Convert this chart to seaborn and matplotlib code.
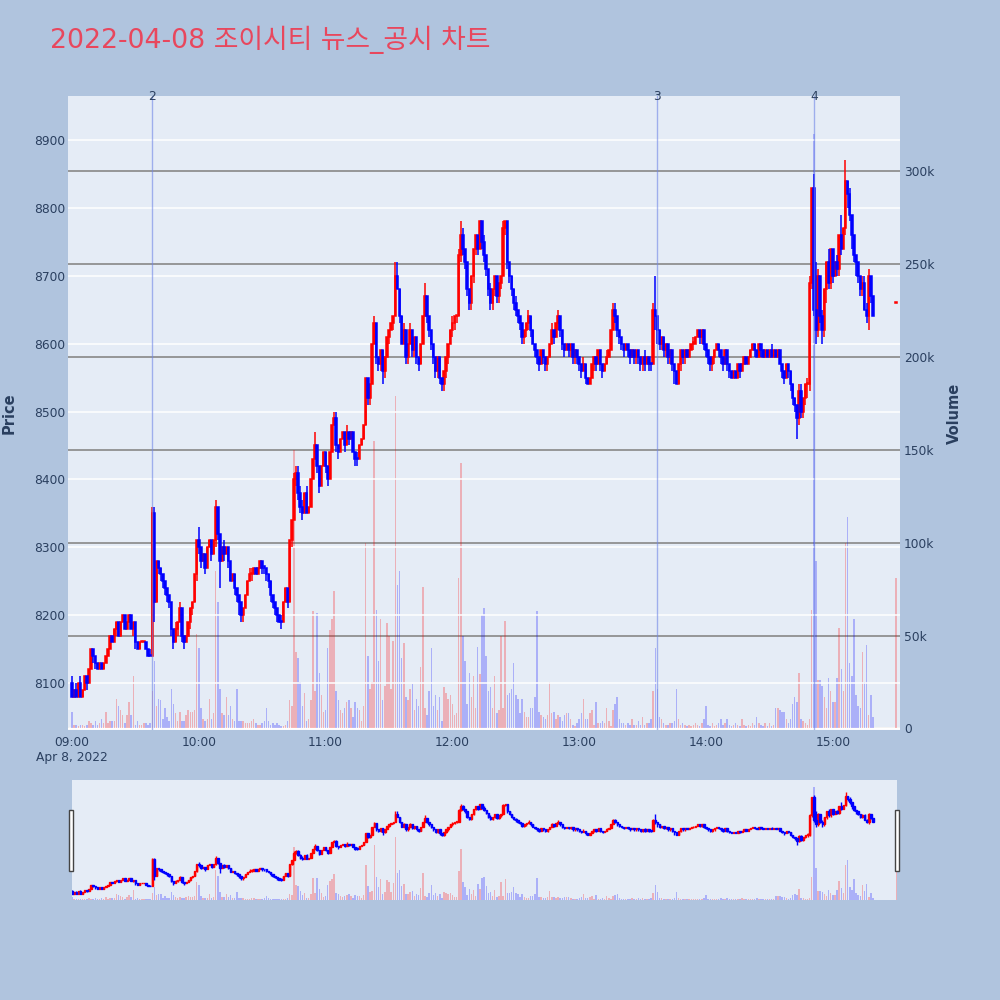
import numpy as np
import pandas as pd
import matplotlib
matplotlib.use("Agg")
import matplotlib.pyplot as plt
from matplotlib.patches import Rectangle
from matplotlib.transforms import blended_transform_factory
import seaborn as sns

# ---- chart data (1-minute candles 09:00-15:19 plus the 15:30 closing auction) ----
title = "2022-04-08 조이시티 뉴스_공시 차트"
session_start = "2022-04-08 09:00"
session_end = "2022-04-08 15:19"
closing_auction = "2022-04-08 15:30"

opens = [
    8100, 8080, 8090, 8080, 8100, 8080, 8090, 8110, 8100, 8120,
    8150, 8140, 8130, 8120, 8130, 8120, 8130, 8140, 8150, 8170,
    8160, 8180, 8190, 8170, 8190, 8200, 8180, 8190, 8200, 8180,
    8190, 8160, 8150, 8160, 8160, 8160, 8150, 8140, 8140, 8350,
    8220, 8280, 8270, 8260, 8250, 8240, 8230, 8220, 8180, 8160,
    8180, 8190, 8210, 8170, 8160, 8170, 8190, 8210, 8220, 8260,
    8310, 8300, 8280, 8290, 8270, 8300, 8310, 8290, 8310, 8360,
    8320, 8280, 8300, 8290, 8300, 8280, 8250, 8260, 8240, 8230,
    8220, 8200, 8210, 8230, 8250, 8260, 8260, 8270, 8260, 8270,
    8280, 8270, 8270, 8260, 8250, 8230, 8220, 8210, 8200, 8190,
    8190, 8220, 8240, 8220, 8310, 8340, 8400, 8410, 8380, 8360,
    8350, 8380, 8350, 8360, 8400, 8430, 8450, 8420, 8390, 8420,
    8440, 8420, 8400, 8440, 8480, 8490, 8450, 8440, 8460, 8470,
    8450, 8470, 8460, 8470, 8440, 8430, 8430, 8450, 8460, 8480,
    8550, 8520, 8540, 8600, 8630, 8580, 8570, 8590, 8560, 8580,
    8610, 8620, 8630, 8640, 8700, 8680, 8640, 8600, 8620, 8580,
    8600, 8620, 8590, 8610, 8580, 8570, 8600, 8640, 8670, 8640,
    8620, 8600, 8580, 8560, 8580, 8550, 8540, 8560, 8580, 8600,
    8620, 8630, 8640, 8640, 8730, 8760, 8740, 8720, 8680, 8660,
    8700, 8740, 8760, 8740, 8780, 8750, 8730, 8710, 8680, 8660,
    8680, 8700, 8670, 8690, 8700, 8770, 8780, 8720, 8700, 8680,
    8660, 8650, 8640, 8630, 8610, 8620, 8630, 8640, 8620, 8600,
    8590, 8580, 8570, 8590, 8580, 8570, 8580, 8600, 8620, 8610,
    8630, 8640, 8620, 8600, 8590, 8600, 8590, 8600, 8580, 8590,
    8580, 8570, 8560, 8570, 8550, 8540, 8550, 8570, 8580, 8570,
    8590, 8570, 8560, 8570, 8580, 8590, 8620, 8650, 8640, 8620,
    8610, 8600, 8590, 8600, 8590, 8580, 8590, 8580, 8590, 8580,
    8570, 8580, 8570, 8580, 8570, 8570, 8650, 8640, 8620, 8600,
    8610, 8590, 8600, 8580, 8590, 8570, 8560, 8540, 8570, 8590,
    8580, 8590, 8580, 8590, 8600, 8600, 8610, 8620, 8610, 8620,
    8600, 8590, 8580, 8570, 8580, 8590, 8600, 8590, 8580, 8570,
    8590, 8570, 8560, 8550, 8560, 8550, 8570, 8560, 8570, 8580,
    8570, 8580, 8590, 8600, 8590, 8580, 8600, 8590, 8580, 8590,
    8580, 8590, 8580, 8590, 8580, 8590, 8570, 8560, 8550, 8570,
    8560, 8540, 8520, 8510, 8490, 8530, 8500, 8520, 8540, 8540,
    8690, 8830, 8650, 8620, 8700, 8640, 8620, 8680, 8720, 8690,
    8740, 8700, 8720, 8710, 8760, 8740, 8770, 8840, 8820, 8790,
    8760, 8730, 8720, 8700, 8680, 8690, 8650, 8640, 8700, 8670,
    8660,
]
highs = [
    8110, 8090, 8100, 8100, 8110, 8090, 8110, 8110, 8120, 8150,
    8150, 8140, 8130, 8130, 8130, 8130, 8140, 8150, 8170, 8170,
    8180, 8190, 8190, 8190, 8200, 8200, 8190, 8200, 8200, 8190,
    8190, 8160, 8160, 8160, 8160, 8160, 8150, 8150, 8360, 8360,
    8280, 8280, 8270, 8260, 8250, 8240, 8230, 8220, 8180, 8190,
    8190, 8220, 8210, 8170, 8170, 8190, 8210, 8220, 8260, 8310,
    8330, 8300, 8290, 8290, 8300, 8310, 8310, 8310, 8370, 8360,
    8320, 8300, 8310, 8300, 8300, 8280, 8260, 8260, 8240, 8230,
    8220, 8210, 8230, 8250, 8270, 8270, 8270, 8270, 8270, 8280,
    8280, 8270, 8270, 8260, 8250, 8230, 8220, 8210, 8200, 8200,
    8220, 8240, 8240, 8310, 8340, 8410, 8420, 8420, 8390, 8370,
    8380, 8390, 8360, 8400, 8430, 8470, 8450, 8420, 8420, 8440,
    8440, 8420, 8440, 8480, 8500, 8500, 8450, 8460, 8470, 8470,
    8480, 8470, 8470, 8470, 8440, 8440, 8450, 8460, 8480, 8550,
    8550, 8540, 8600, 8640, 8630, 8580, 8590, 8590, 8580, 8610,
    8620, 8630, 8640, 8720, 8720, 8680, 8640, 8630, 8620, 8600,
    8630, 8620, 8610, 8610, 8580, 8600, 8640, 8690, 8670, 8640,
    8620, 8600, 8580, 8580, 8580, 8550, 8560, 8580, 8600, 8620,
    8640, 8640, 8640, 8740, 8780, 8770, 8740, 8720, 8680, 8700,
    8740, 8760, 8760, 8780, 8780, 8760, 8730, 8710, 8690, 8680,
    8700, 8700, 8690, 8700, 8780, 8780, 8780, 8720, 8700, 8680,
    8670, 8650, 8640, 8630, 8620, 8630, 8650, 8640, 8620, 8600,
    8590, 8580, 8590, 8590, 8580, 8580, 8600, 8630, 8620, 8630,
    8650, 8640, 8620, 8600, 8600, 8600, 8600, 8600, 8590, 8590,
    8580, 8570, 8580, 8570, 8550, 8550, 8570, 8580, 8580, 8590,
    8590, 8570, 8570, 8590, 8590, 8620, 8660, 8660, 8640, 8620,
    8610, 8600, 8600, 8600, 8590, 8590, 8590, 8590, 8590, 8580,
    8580, 8590, 8580, 8580, 8570, 8660, 8700, 8640, 8620, 8610,
    8610, 8600, 8600, 8590, 8590, 8570, 8560, 8570, 8590, 8590,
    8590, 8590, 8590, 8600, 8610, 8610, 8620, 8620, 8620, 8620,
    8600, 8590, 8580, 8580, 8590, 8600, 8600, 8590, 8580, 8590,
    8590, 8570, 8560, 8560, 8560, 8570, 8570, 8570, 8580, 8580,
    8580, 8590, 8600, 8600, 8590, 8600, 8600, 8590, 8590, 8590,
    8590, 8600, 8590, 8590, 8590, 8590, 8570, 8560, 8570, 8570,
    8560, 8540, 8520, 8510, 8540, 8540, 8520, 8540, 8550, 8700,
    8830, 8850, 8720, 8710, 8700, 8650, 8680, 8720, 8740, 8740,
    8740, 8720, 8730, 8760, 8790, 8770, 8870, 8840, 8830, 8790,
    8760, 8730, 8720, 8700, 8700, 8700, 8660, 8710, 8700, 8670,
    8660,
]
lows = [
    8080, 8080, 8080, 8080, 8080, 8080, 8090, 8090, 8100, 8120,
    8130, 8120, 8120, 8120, 8120, 8120, 8130, 8140, 8150, 8160,
    8160, 8170, 8170, 8170, 8190, 8180, 8180, 8190, 8180, 8170,
    8150, 8150, 8150, 8160, 8160, 8150, 8140, 8140, 8140, 8190,
    8220, 8260, 8250, 8240, 8230, 8220, 8210, 8170, 8150, 8160,
    8170, 8190, 8160, 8150, 8160, 8170, 8180, 8200, 8220, 8250,
    8290, 8270, 8280, 8260, 8270, 8300, 8280, 8290, 8300, 8310,
    8240, 8280, 8280, 8290, 8270, 8250, 8250, 8230, 8220, 8200,
    8190, 8190, 8210, 8230, 8250, 8250, 8260, 8260, 8260, 8270,
    8260, 8260, 8250, 8240, 8220, 8210, 8200, 8190, 8190, 8180,
    8190, 8220, 8210, 8220, 8300, 8340, 8390, 8370, 8350, 8340,
    8350, 8350, 8350, 8360, 8400, 8430, 8410, 8380, 8390, 8420,
    8410, 8390, 8400, 8440, 8480, 8440, 8430, 8440, 8460, 8440,
    8450, 8450, 8460, 8440, 8420, 8420, 8430, 8450, 8460, 8480,
    8510, 8510, 8540, 8600, 8570, 8560, 8560, 8540, 8550, 8580,
    8600, 8620, 8620, 8640, 8680, 8630, 8600, 8600, 8570, 8570,
    8600, 8580, 8580, 8570, 8560, 8570, 8600, 8640, 8630, 8610,
    8590, 8570, 8550, 8550, 8540, 8530, 8530, 8550, 8570, 8600,
    8610, 8620, 8630, 8640, 8720, 8730, 8710, 8670, 8650, 8650,
    8690, 8730, 8730, 8740, 8740, 8720, 8700, 8670, 8650, 8650,
    8670, 8660, 8660, 8680, 8700, 8760, 8710, 8690, 8670, 8650,
    8640, 8630, 8620, 8600, 8600, 8610, 8620, 8610, 8600, 8580,
    8570, 8560, 8570, 8570, 8560, 8560, 8580, 8600, 8600, 8610,
    8620, 8610, 8590, 8580, 8590, 8580, 8580, 8570, 8570, 8570,
    8560, 8550, 8560, 8540, 8540, 8540, 8550, 8560, 8560, 8570,
    8560, 8550, 8560, 8570, 8580, 8590, 8620, 8630, 8610, 8600,
    8590, 8580, 8590, 8580, 8570, 8580, 8570, 8570, 8570, 8560,
    8560, 8560, 8570, 8560, 8560, 8570, 8620, 8600, 8590, 8590,
    8580, 8580, 8570, 8570, 8560, 8540, 8540, 8540, 8560, 8570,
    8570, 8580, 8580, 8590, 8590, 8600, 8610, 8600, 8600, 8590,
    8580, 8570, 8560, 8560, 8570, 8590, 8580, 8570, 8560, 8570,
    8560, 8550, 8550, 8550, 8550, 8550, 8550, 8560, 8570, 8570,
    8570, 8580, 8590, 8580, 8580, 8580, 8580, 8580, 8580, 8580,
    8580, 8580, 8580, 8580, 8580, 8570, 8550, 8540, 8550, 8550,
    8530, 8510, 8500, 8460, 8480, 8490, 8490, 8510, 8520, 8530,
    8680, 8640, 8600, 8610, 8630, 8600, 8610, 8660, 8680, 8680,
    8690, 8700, 8700, 8700, 8730, 8740, 8760, 8800, 8780, 8740,
    8720, 8700, 8690, 8670, 8670, 8650, 8630, 8620, 8660, 8640,
    8660,
]
closes = [
    8080, 8090, 8080, 8100, 8080, 8090, 8110, 8100, 8120, 8150,
    8140, 8130, 8120, 8130, 8120, 8130, 8140, 8150, 8170, 8160,
    8180, 8190, 8170, 8190, 8200, 8180, 8190, 8200, 8180, 8190,
    8160, 8150, 8160, 8160, 8160, 8150, 8140, 8140, 8350, 8220,
    8280, 8270, 8260, 8250, 8240, 8230, 8220, 8180, 8160, 8180,
    8190, 8210, 8170, 8160, 8170, 8190, 8210, 8220, 8260, 8310,
    8300, 8280, 8290, 8270, 8300, 8310, 8290, 8310, 8360, 8320,
    8280, 8300, 8290, 8300, 8280, 8250, 8260, 8240, 8230, 8220,
    8200, 8210, 8230, 8250, 8260, 8260, 8270, 8260, 8270, 8280,
    8270, 8270, 8260, 8250, 8230, 8220, 8210, 8200, 8190, 8190,
    8220, 8240, 8220, 8310, 8340, 8400, 8410, 8380, 8360, 8350,
    8380, 8350, 8360, 8400, 8430, 8450, 8420, 8390, 8420, 8440,
    8420, 8400, 8440, 8480, 8490, 8450, 8440, 8460, 8470, 8450,
    8470, 8460, 8470, 8440, 8430, 8430, 8450, 8460, 8480, 8550,
    8520, 8540, 8600, 8630, 8580, 8570, 8590, 8560, 8580, 8610,
    8620, 8630, 8640, 8700, 8680, 8640, 8600, 8620, 8580, 8600,
    8620, 8590, 8610, 8580, 8570, 8600, 8640, 8670, 8640, 8620,
    8600, 8580, 8560, 8580, 8550, 8540, 8560, 8580, 8600, 8620,
    8630, 8640, 8640, 8730, 8760, 8740, 8720, 8680, 8660, 8700,
    8740, 8760, 8740, 8780, 8750, 8730, 8710, 8680, 8660, 8680,
    8700, 8670, 8690, 8700, 8770, 8780, 8720, 8700, 8680, 8660,
    8650, 8640, 8630, 8610, 8620, 8630, 8640, 8620, 8600, 8590,
    8580, 8570, 8590, 8580, 8570, 8580, 8600, 8620, 8610, 8630,
    8640, 8620, 8600, 8590, 8600, 8590, 8600, 8580, 8590, 8580,
    8570, 8560, 8570, 8550, 8540, 8550, 8570, 8580, 8570, 8590,
    8570, 8560, 8570, 8580, 8590, 8620, 8650, 8640, 8620, 8610,
    8600, 8590, 8600, 8590, 8580, 8590, 8580, 8590, 8580, 8570,
    8580, 8570, 8580, 8570, 8570, 8650, 8640, 8620, 8600, 8610,
    8590, 8600, 8580, 8590, 8570, 8560, 8540, 8570, 8590, 8580,
    8590, 8580, 8590, 8600, 8600, 8610, 8620, 8610, 8620, 8600,
    8590, 8580, 8570, 8580, 8590, 8600, 8590, 8580, 8570, 8590,
    8570, 8560, 8550, 8560, 8550, 8570, 8560, 8570, 8580, 8570,
    8580, 8590, 8600, 8590, 8580, 8600, 8590, 8580, 8590, 8580,
    8590, 8580, 8590, 8580, 8590, 8570, 8560, 8550, 8570, 8560,
    8540, 8520, 8510, 8490, 8530, 8500, 8520, 8540, 8540, 8690,
    8830, 8650, 8620, 8700, 8640, 8620, 8680, 8720, 8690, 8740,
    8700, 8720, 8710, 8760, 8740, 8770, 8840, 8820, 8790, 8760,
    8730, 8720, 8700, 8680, 8690, 8650, 8640, 8700, 8670, 8640,
    8660,
]
# traded volume per minute, thousands of shares
volumes_k = [
    9, 2, 2, 1, 2, 2, 1, 2, 4, 3,
    2, 4, 2, 3, 5, 3, 9, 3, 4, 4,
    4, 16, 12, 10, 7, 3, 7, 14, 7, 28,
    2, 4, 2, 2, 3, 3, 2, 3, 20, 36,
    12, 16, 15, 5, 11, 6, 4, 21, 13, 8,
    4, 9, 4, 4, 7, 10, 9, 9, 10, 51,
    43, 11, 5, 4, 5, 16, 5, 8, 85, 68,
    21, 8, 7, 17, 7, 12, 5, 4, 21, 4,
    4, 4, 3, 3, 3, 4, 5, 3, 2, 2,
    3, 4, 11, 4, 2, 3, 2, 3, 2, 1,
    1, 2, 4, 15, 12, 150, 41, 38, 25, 12,
    19, 4, 5, 15, 63, 20, 62, 30, 18, 9,
    10, 43, 53, 59, 74, 20, 15, 10, 8, 11,
    14, 15, 11, 6, 14, 11, 10, 4, 12, 100,
    39, 21, 25, 155, 64, 36, 59, 15, 23, 57,
    50, 21, 47, 179, 77, 85, 38, 46, 17, 15,
    21, 24, 10, 16, 12, 33, 76, 11, 7, 20,
    43, 12, 18, 10, 17, 4, 22, 19, 16, 18,
    13, 7, 8, 81, 143, 50, 36, 13, 30, 17,
    28, 11, 44, 29, 61, 65, 39, 20, 22, 11,
    28, 8, 10, 50, 11, 58, 18, 19, 21, 35,
    18, 16, 8, 16, 9, 6, 6, 11, 11, 17,
    63, 9, 7, 6, 5, 7, 25, 8, 9, 5,
    7, 6, 4, 7, 8, 8, 5, 2, 1, 3,
    5, 8, 16, 5, 5, 8, 10, 2, 14, 3,
    3, 4, 3, 11, 4, 1, 10, 13, 17, 5,
    3, 3, 2, 3, 2, 5, 2, 2, 4, 2,
    6, 2, 3, 3, 5, 20, 43, 21, 6, 5,
    3, 2, 2, 3, 3, 4, 21, 5, 2, 3,
    2, 1, 2, 1, 2, 3, 2, 1, 3, 5,
    12, 2, 1, 3, 1, 2, 3, 5, 2, 3,
    5, 2, 1, 2, 3, 2, 1, 5, 2, 1,
    2, 1, 3, 2, 6, 3, 2, 1, 3, 1,
    3, 1, 2, 11, 11, 10, 9, 9, 5, 3,
    5, 13, 17, 14, 30, 5, 4, 3, 2, 5,
    64, 320, 90, 26, 26, 23, 17, 11, 27, 20,
    14, 14, 27, 54, 32, 20, 100, 114, 35, 28,
    59, 18, 12, 11, 41, 25, 45, 7, 18, 6,
    81,
]

news_times = ["2022-04-08 09:38", "2022-04-08 13:37", "2022-04-08 14:51"]
news_labels = ["2", "3", "4"]

price_ticks = [8100, 8200, 8300, 8400, 8500, 8600, 8700, 8800, 8900]
volume_ticks = [0, 50, 100, 150, 200, 250, 300]
volume_tick_labels = ["0", "50k", "100k", "150k", "200k", "250k", "300k"]
hour_ticks = ["09:00", "10:00", "11:00", "12:00", "13:00", "14:00", "15:00"]
date_label = "Apr 8, 2022"

# ---- build frame ----
stamps = pd.date_range(session_start, session_end, freq="min").append(
    pd.DatetimeIndex([closing_auction]))
t0 = pd.Timestamp(session_start)
df = pd.DataFrame({"time": stamps, "open": opens, "high": highs,
                   "low": lows, "close": closes, "volume": volumes_k})
df["minute"] = (df["time"] - t0).dt.total_seconds() / 60

# plotly style direction: flat candles follow the previous close / direction
dirs = []
prev_c, prev_d = None, "down"
for o, c in zip(df["open"], df["close"]):
    if c > o:
        d = "up"
    elif c < o:
        d = "down"
    elif prev_c is not None and c > prev_c:
        d = "up"
    elif prev_c is not None and c < prev_c:
        d = "down"
    else:
        d = prev_d
    dirs.append(d)
    prev_c, prev_d = c, d
df["dir"] = dirs

UP, DOWN = "#ff0000", "#0000ff"
palette = {"up": UP, "down": DOWN}
TXT = "#2a3f5f"
PLOT_BG = "#E5ECF6"
PAGE_BG = "#B0C4DE"

sns.set_theme(style="white")
plt.rcParams["font.family"] = ["DejaVu Sans", "Noto Sans CJK KR"]


def draw_candles(ax, frame, lw):
    for d, col in palette.items():
        sub = frame[frame["dir"] == d]
        ax.vlines(sub["minute"], sub["low"], sub["high"], color=col, lw=lw, zorder=3)
        bottom = np.minimum(sub["open"], sub["close"])
        height = np.maximum(np.abs(sub["close"] - sub["open"]), 2)
        ax.bar(sub["minute"], height, width=0.7, bottom=bottom, color=col,
               edgecolor=col, linewidth=lw, zorder=3)


def draw_volume(ax, frame):
    sns.barplot(data=frame, x="minute", y="volume", hue="dir", palette=palette,
                native_scale=True, orient="x", dodge=False, width=0.7,
                errorbar=None, legend=False, saturation=1, alpha=0.25,
                linewidth=0, ax=ax)
    ax.set_xlabel("")
    ax.set_ylabel("")


fig = plt.figure(figsize=(10, 10), dpi=100, facecolor=PAGE_BG)

price_lim = (8030.8, 8964.8)
vol_lim = (-0.9, 340.6)
xlim = (-1.89, 391.8)

# ---- main panel: volume underneath, candles on the twin axis ----
ax_vol = fig.add_axes([0.068, 0.270, 0.832, 0.634], facecolor=PLOT_BG)
draw_volume(ax_vol, df)
ax_px = ax_vol.twinx()
draw_candles(ax_px, df, lw=1.1)

# twinx flips the tick sides, so put them where the reference has them
ax_vol.yaxis.tick_right()
ax_vol.yaxis.set_label_position("right")
ax_px.yaxis.tick_left()
ax_px.yaxis.set_label_position("left")

ax_vol.set_ylim(*vol_lim)
ax_vol.set_yticks(volume_ticks)
ax_vol.set_yticklabels(volume_tick_labels)
ax_vol.grid(axis="y", color="#8f8f8f", lw=1.3)
ax_vol.grid(axis="x", visible=False)
ax_vol.axhline(0, color="white", lw=2, zorder=0.6)
ax_vol.set_axisbelow(True)

ax_px.set_ylim(*price_lim)
ax_px.set_yticks(price_ticks)
ax_px.set_yticklabels([str(p) for p in price_ticks])
ax_px.grid(axis="y", color="white", lw=1.1)
ax_px.grid(axis="x", visible=False)
ax_px.set_axisbelow(True)

ax_vol.set_xlim(*xlim)
ax_px.set_xlim(*xlim)
tick_pos = [(pd.Timestamp("2022-04-08 " + h) - t0).total_seconds() / 60 for h in hour_ticks]
ax_vol.set_xticks(tick_pos)
ax_vol.set_xticklabels([hour_ticks[0] + "\n" + date_label] + hour_ticks[1:])

for a in (ax_vol, ax_px):
    for s in a.spines.values():
        s.set_visible(False)
ax_vol.tick_params(axis="x", length=0, pad=4.5, labelsize=8.8, labelcolor=TXT)
ax_vol.tick_params(axis="y", which="both", left=False, labelleft=False,
                   right=False, labelright=True, length=0, pad=3,
                   labelsize=8.8, labelcolor=TXT)
ax_px.tick_params(axis="y", which="both", right=False, labelright=False,
                  left=False, labelleft=True, length=0, pad=2,
                  labelsize=8.8, labelcolor=TXT)

# news markers
trans = blended_transform_factory(ax_px.transData, ax_px.transAxes)
for t, lab in zip(news_times, news_labels):
    xm = (pd.Timestamp(t) - t0).total_seconds() / 60
    ax_px.axvline(xm, color="#6f86e6", lw=1.0, alpha=0.6, zorder=5)
    ax_px.text(xm, 1.0, lab, transform=trans, ha="center", va="center",
               fontsize=8.8, color=TXT, clip_on=False, zorder=6)

# ---- range slider ----
ax_svol = fig.add_axes([0.0717, 0.100, 0.825, 0.120], facecolor=PLOT_BG)
draw_volume(ax_svol, df)
ax_spx = ax_svol.twinx()
draw_candles(ax_spx, df, lw=1.0)
ax_svol.set_ylim(*vol_lim)
ax_spx.set_ylim(*price_lim)
for a in (ax_svol, ax_spx):
    a.set_xlim(-0.15, 390.2)
    a.set_xticks([])
    a.set_yticks([])
    a.grid(False)
    for s in a.spines.values():
        s.set_visible(False)
for hx in (0.0693, 0.8953):
    fig.patches.append(Rectangle((hx, 0.1293), 0.004, 0.0607, transform=fig.transFigure,
                                 facecolor="white", edgecolor="#444444", lw=1))

# ---- titles ----
fig.text(0.05, 0.960, title, fontsize=19.3, color="#e8475d", ha="left", va="center",
         family=["DejaVu Sans", "Noto Sans CJK KR"])
fig.text(0.009, 0.587, "Price", rotation=90, ha="center", va="center",
         fontsize=10.5, fontweight="bold", color=TXT)
fig.text(0.954, 0.587, "Volume", rotation=90, ha="center", va="center",
         fontsize=10.5, fontweight="bold", color=TXT)

fig.savefig("out.png", dpi=100, facecolor=PAGE_BG)
